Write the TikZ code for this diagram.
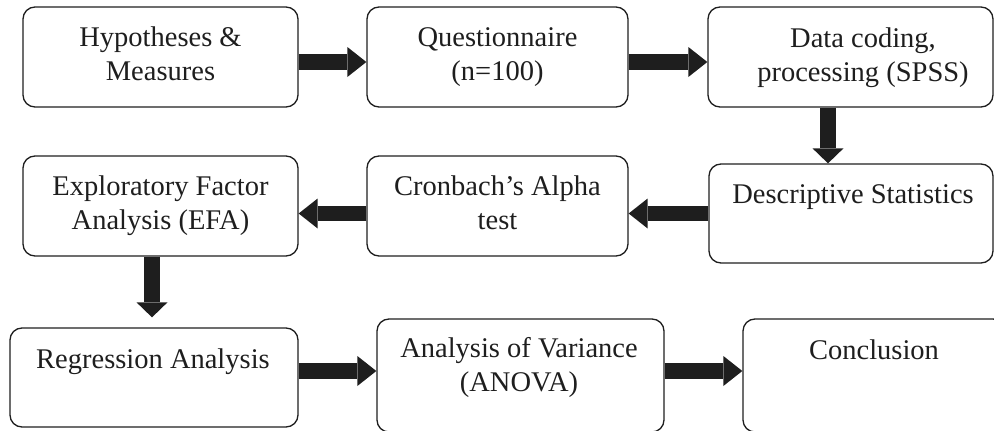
\documentclass[tikz,border=0pt]{standalone}
\usepackage{fontspec}
\setmainfont{Liberation Serif}
\usetikzlibrary{arrows.meta}
\definecolor{ink}{HTML}{1E1E1E}
\begin{document}
\begin{tikzpicture}[x=1pt,y=-1pt,
  box/.style={draw=ink,line width=1.3pt,rounded corners=12pt,inner sep=0pt,
    minimum width=#1},
  box/.default=275pt,
  lbl/.style={anchor=base,align=center,inner sep=0pt,text=ink,
    font=\fontsize{28.5}{33.5}\selectfont},
  bigarrow/.style={draw=ink,line width=15.5pt,
    -{Triangle[width=30pt,length=19pt,line width=0pt]}},
  downarrow/.style={draw=ink,line width=15.5pt,
    -{Triangle[width=31pt,length=15pt,line width=0pt]}}]
\useasboundingbox (0,0) rectangle (994,431);
% boxes
\node[box=275pt,minimum height=100pt] (A) at (160.5,57) {};
\node[box=261pt,minimum height=100pt] (B) at (497.5,57) {};
\node[box=285pt,minimum height=100pt] (C) at (850.5,57) {};
\node[box=275pt,minimum height=100pt] (D) at (160.5,206) {};
\node[box=261pt,minimum height=100pt] (E) at (497.5,206) {};
\node[box=284pt,minimum height=99pt] (F) at (851,213.5) {};
\node[box=288pt,minimum height=99pt] (G) at (154,377.5) {};
\node[box=287pt,minimum height=113pt] (H) at (520.5,375.5) {};
\node[box=262pt,minimum height=113pt] (I) at (874,375.5) {};
% texts (base anchor = baseline of the last line)
\node[lbl] (tA) at (160.5,80) {Hypotheses \&\\Measures};
\node[lbl] (tB) at (497.5,80) {Questionnaire\\(n=100)};
\node[lbl] (tC) at (863,81) {Data coding,\\processing (SPSS)};
\node[lbl] (tD) at (160.5,229) {Exploratory Factor\\Analysis (EFA)};
\node[lbl] (tE) at (497.5,229) {Cronbach’s Alpha\\test};
\node[lbl] (tF) at (853,203) {Descriptive Statistics};
\node[lbl] (tG) at (153,368) {Regression Analysis};
\node[lbl] (tH) at (519,391) {Analysis of Variance\\(ANOVA)};
\node[lbl] (tI) at (874,359) {Conclusion};
% connectors
\draw[bigarrow] ([yshift=-5pt]A.east) -- ([yshift=-5pt]B.west);
\draw[bigarrow] ([yshift=-5pt]B.east) -- ([yshift=-5pt]C.west);
\draw[downarrow] ([xshift=-22.5pt]C.south) -- ([xshift=-22.5pt]C.south |- F.north);
\draw[bigarrow] (F.west) -- (F.west -| E.east);
\draw[bigarrow] (F.west -| E.west) -- (F.west -| D.east);
\draw[downarrow,shorten >=10pt] ([xshift=-8.5pt]D.south) -- ([xshift=-8.5pt]D.south |- G.north);
\draw[bigarrow] ([yshift=6.5pt]G.east) -- ([yshift=4.5pt]H.west);
\draw[bigarrow] ([yshift=4.5pt]H.east) -- ([yshift=4.5pt]I.west);
\end{tikzpicture}
\end{document}
